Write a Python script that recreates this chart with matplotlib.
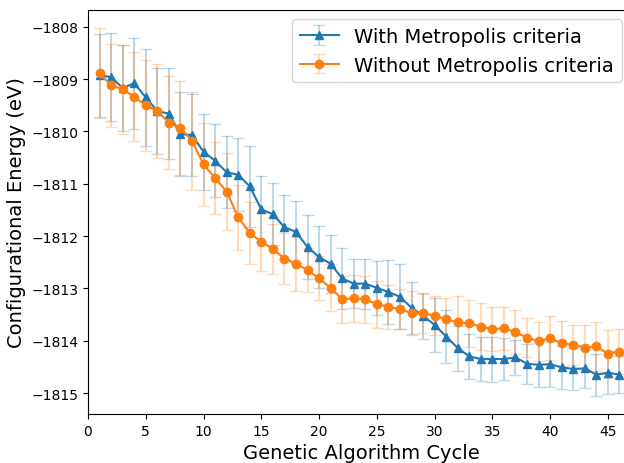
import numpy as np
import matplotlib
matplotlib.use("Agg")
from matplotlib import pyplot as plt

# genetic algorithm cycles
cycles = list(range(1, 47))

# with Metropolis criteria: mean energy and std (eV)
with_mean = [-1808.93, -1808.96, -1809.17, -1809.08, -1809.35, -1809.61, -1809.66, -1810.05,
             -1810.07, -1810.39, -1810.56, -1810.78, -1810.83, -1811.05, -1811.49, -1811.58,
             -1811.83, -1811.92, -1812.21, -1812.40, -1812.53, -1812.81, -1812.91, -1812.91,
             -1812.99, -1813.07, -1813.16, -1813.37, -1813.52, -1813.70, -1813.92, -1814.14,
             -1814.30, -1814.35, -1814.35, -1814.35, -1814.32, -1814.44, -1814.46, -1814.45,
             -1814.51, -1814.54, -1814.53, -1814.65, -1814.61, -1814.65]
with_err = [0.79, 0.85, 0.82, 0.87, 0.92, 0.82, 0.87, 0.81, 0.79, 0.73, 0.70, 0.69, 0.70,
            0.78, 0.63, 0.60, 0.61, 0.59, 0.61, 0.59, 0.55, 0.58, 0.47, 0.48, 0.52, 0.61,
            0.62, 0.50, 0.44, 0.52, 0.50, 0.43, 0.43, 0.42, 0.43, 0.41, 0.33, 0.38, 0.43,
            0.44, 0.41, 0.40, 0.37, 0.40, 0.41, 0.35]

# without Metropolis criteria
without_mean = [-1808.89, -1809.12, -1809.19, -1809.34, -1809.50, -1809.61, -1809.83, -1809.93,
                -1810.18, -1810.63, -1810.89, -1811.15, -1811.64, -1811.94, -1812.11, -1812.25,
                -1812.43, -1812.53, -1812.65, -1812.81, -1812.99, -1813.21, -1813.19, -1813.21,
                -1813.30, -1813.35, -1813.40, -1813.47, -1813.48, -1813.52, -1813.59, -1813.65,
                -1813.67, -1813.73, -1813.78, -1813.76, -1813.84, -1813.94, -1814.01, -1813.95,
                -1814.05, -1814.08, -1814.13, -1814.11, -1814.25, -1814.21]
without_err = [0.86, 0.80, 0.85, 0.85, 0.87, 0.89, 0.89, 0.90, 0.94, 0.79, 0.69, 0.73, 0.62,
               0.60, 0.55, 0.48, 0.49, 0.52, 0.42, 0.42, 0.45, 0.45, 0.45, 0.45, 0.45, 0.42,
               0.38, 0.42, 0.37, 0.37, 0.40, 0.51, 0.45, 0.45, 0.42, 0.41, 0.42, 0.37, 0.37,
               0.42, 0.43, 0.38, 0.43, 0.46, 0.46, 0.43]

fig = plt.figure(figsize=(6.24, 4.64), dpi=100)
# the right spine sits just past the picture's edge
ax = fig.add_axes([88 / 624, 49 / 464, 546.5 / 624, 404 / 464])

blue = '#1f77b4'
orange = '#ff7f0e'

ax.errorbar(cycles, with_mean, yerr=with_err, color=blue, marker='^', markersize=6,
            ecolor=matplotlib.colors.to_rgba(blue, 0.28), capsize=4,
            label='With Metropolis criteria')
ax.errorbar(cycles, without_mean, yerr=without_err, color=orange, marker='o', markersize=6,
            ecolor=matplotlib.colors.to_rgba(orange, 0.28), capsize=4,
            label='Without Metropolis criteria')

ax.set_xlim(0, 47.3)
ax.set_xticks(range(0, 47, 5))
ax.set_xlabel('Genetic Algorithm Cycle', fontsize=14)
ax.set_ylabel('Configurational Energy (eV)', fontsize=14)

ax.legend(fontsize=14, loc='upper right', bbox_to_anchor=(622 / 624, 1 - 20 / 464),
          bbox_transform=fig.transFigure, borderaxespad=0)

fig.savefig('out.png', dpi=100)
